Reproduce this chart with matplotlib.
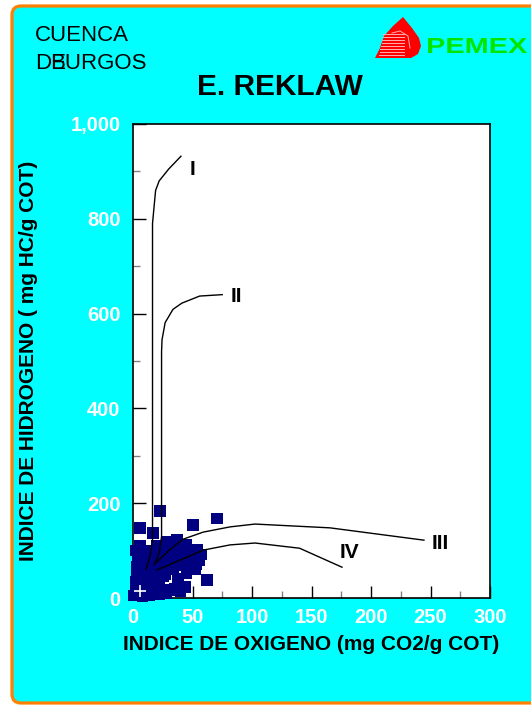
import numpy as np
import matplotlib.pyplot as plt
from matplotlib.patches import FancyBboxPatch, Polygon, PathPatch
from matplotlib.textpath import TextPath
from matplotlib.font_manager import FontProperties
from matplotlib.transforms import Affine2D
from matplotlib.ticker import MultipleLocator, FuncFormatter

plt.rcParams['font.family'] = ['Liberation Sans', 'DejaVu Sans']

# Datos: indice de oxigeno (x) e indice de hidrogeno (y)
oi = [6, 17, 22.7, 50.5, 70.5, 62,
      10, 20, 28, 37, 45, 54, 56, 52, 45, 40, 30, 25, 15, 8,
      5, 3, 2, 5, 10, 15, 20, 25, 30, 35, 12, 18, 8, 28, 35,
      40, 44, 31, 22, 12, 4, 15, 33, 42, 48, 38, 26, 20, 1, 50,
      3, 8, 13, 18, 23, 28, 33, 38, 43, 3, 9, 14, 19, 24, 29, 34,
      2, 7, 12, 17, 22, 27, 4, 10, 16, 22, 8, 14, 2, 6, 11, 16,
      47, 42, 36, 30, 57, 53]
hi = [148, 137, 183, 154, 168, 38,
      97, 110, 118, 122, 112, 101, 80, 60, 53, 90, 95, 85, 75, 70,
      55, 40, 25, 10, 5, 15, 30, 45, 60, 75, 40, 50, 30, 10, 20,
      15, 23, 17, 8, 22, 85, 100, 105, 70, 85, 40, 65, 62, 5, 95,
      65, 60, 62, 65, 70, 80, 88, 95, 100, 50, 48, 52, 55, 58, 70, 62,
      35, 38, 30, 35, 40, 50, 18, 20, 25, 22, 4, 6, 100, 110, 88, 90,
      75, 80, 105, 110, 92, 72]

# Curvas de tipo de kerogeno
tipo_i_x = [40.3, 30, 22, 19, 17.5, 16.4, 16.4, 14, 11]
tipo_i_y = [932, 905, 880, 860, 820, 790, 120, 85, 60]
tipo_ii_x = [75, 56, 41, 33.6, 27, 24.4, 24, 24, 22, 18]
tipo_ii_y = [640, 637, 622, 609, 581, 545, 520, 130, 95, 70]
tipo_iii_x = [20, 30, 42, 59, 81.5, 102.5, 165.5, 244.5]
tipo_iii_y = [76, 100, 124, 139, 150, 156, 148, 122]
tipo_iv_x = [20, 35, 59, 81.5, 102.5, 140, 175.6]
tipo_iv_y = [59, 75, 101, 112, 116, 105, 65]

etiquetas = ['I', 'II', 'III', 'IV']
etiq_x = [50, 87, 258, 181.5]
etiq_y = [905, 637, 114, 97]

W, H = 531, 713
fig = plt.figure(figsize=(W / 100, H / 100), dpi=100)
fig.patch.set_facecolor('white')

# capa de fondo en pixeles
bg = fig.add_axes([0, 0, 1, 1], zorder=0)
bg.set_xlim(0, W)
bg.set_ylim(H, 0)
bg.axis('off')
bg.add_patch(FancyBboxPatch((12, 6), 560, 697, boxstyle='round,pad=0,rounding_size=9',
                            facecolor='#00ffff', edgecolor='#ff8000', linewidth=2.3))

# logo PEMEX
flama = [(403, 17), (412, 28), (419, 38), (421, 46), (418, 54), (411, 58),
         (375, 58), (380, 48), (384, 36), (393, 26)]
bg.add_patch(Polygon(flama, closed=True, facecolor='#ff0000', edgecolor='none'))
for yy in range(34, 57, 3):
    bg.plot([379 + (56 - yy) * 0.2, 404], [yy, yy], color='#ffb0b0', lw=0.7)
bg.plot([392, 400, 408, 410], [33, 31, 36, 48], color='#ffb0b0', lw=0.7)
tp = TextPath((0, 0), 'PEMEX', size=10, prop=FontProperties(family='Liberation Sans', weight='bold'))
ext = tp.get_extents()
tr = (Affine2D().translate(-ext.x0, -ext.y0)
      .scale(99 / ext.width, -15 / ext.height).translate(428, 53))
bg.add_patch(PathPatch(tr.transform_path(tp), facecolor='#00e600', edgecolor='none'))

# textos de encabezado
bg.text(35, 41, 'CUENCA', fontsize=16, color='black', va='baseline')
bg.text(35, 69, 'DE', fontsize=16, color='black', va='baseline')
bg.text(50, 69, 'BURGOS', fontsize=16, color='black', va='baseline')
bg.text(280, 95, 'E. REKLAW', fontsize=21.5, fontweight='bold', ha='center', va='baseline')

# grafica principal
ax = fig.add_axes([133 / W, 1 - 598 / H, 357 / W, 474 / H], zorder=2)
ax.set_facecolor('white')
ax.set_xlim(0, 300)
ax.set_ylim(0, 1000)

ax.scatter(oi, hi, marker='s', s=70, color='#000080', edgecolors='none', zorder=3, clip_on=False)
ax.plot([6], [15], marker='+', color='white', markersize=9, mew=1.2, zorder=5)

for cx, cy in [(tipo_i_x, tipo_i_y), (tipo_ii_x, tipo_ii_y),
               (tipo_iii_x, tipo_iii_y), (tipo_iv_x, tipo_iv_y)]:
    ax.plot(cx, cy, color='black', lw=1, zorder=4)

for t, x, y in zip(etiquetas, etiq_x, etiq_y):
    ax.text(x, y, t, fontsize=15, fontweight='bold', ha='center', va='center', zorder=4)

ax.xaxis.set_major_locator(MultipleLocator(50))
ax.xaxis.set_minor_locator(MultipleLocator(25))
ax.yaxis.set_major_locator(MultipleLocator(200))
ax.yaxis.set_minor_locator(MultipleLocator(100))
ax.yaxis.set_major_formatter(FuncFormatter(lambda v, p: f'{int(v):,}'))
ax.tick_params(which='major', direction='in', length=9, width=1, color='black',
               top=False, right=False, labelsize=14.5, labelcolor='white')
ax.tick_params(which='minor', direction='in', length=5, width=1, color='#808080',
               top=False, right=False)
ax.tick_params(axis='x', which='major', pad=7)
ax.tick_params(axis='y', which='major', pad=9)
for lbl in ax.get_xticklabels() + ax.get_yticklabels():
    lbl.set_fontweight('bold')
for sp in ax.spines.values():
    sp.set_linewidth(1.2)

ax.set_xlabel('INDICE DE OXIGENO (mg CO2/g COT)', fontsize=15, fontweight='bold')
ax.set_ylabel('INDICE DE HIDROGENO ( mg HC/g COT)', fontsize=15, fontweight='bold')
ax.xaxis.set_label_coords((311 - 133) / 357, -0.099)
ax.yaxis.set_label_coords(-0.294, 0.5)
ax.xaxis.label.set_va('center')
ax.yaxis.label.set_va('center')

fig.savefig('out.png', dpi=100)
